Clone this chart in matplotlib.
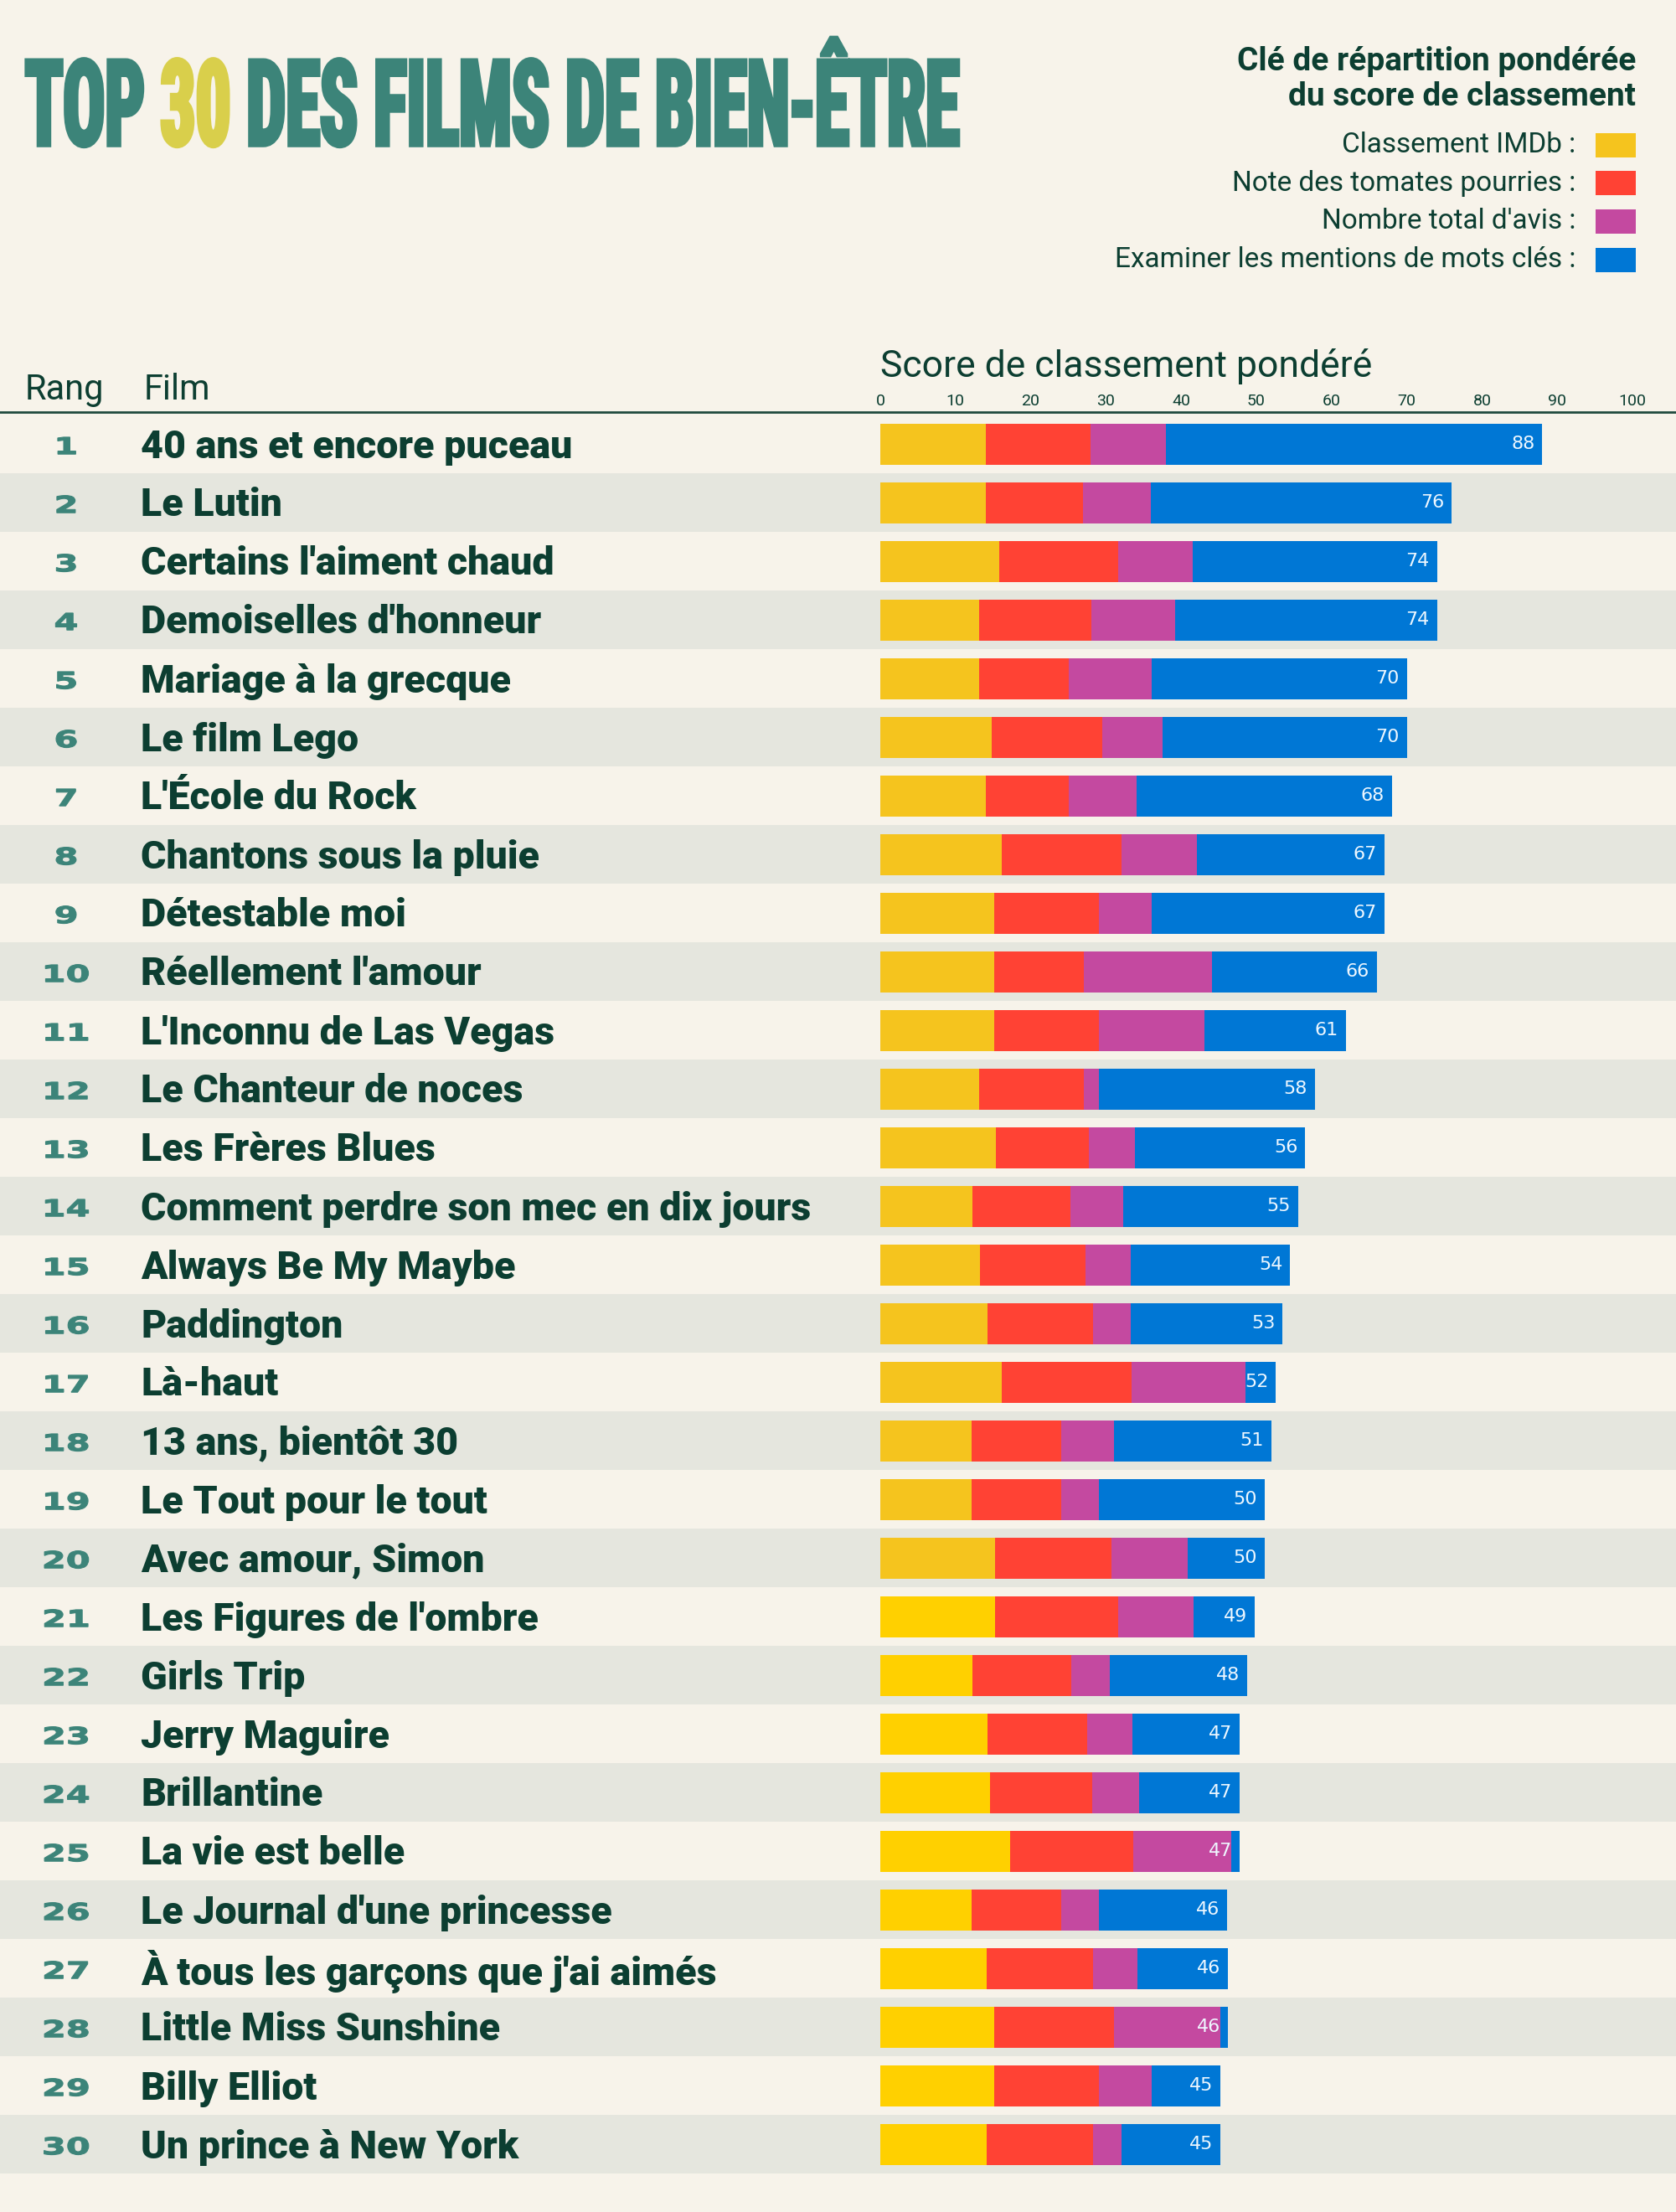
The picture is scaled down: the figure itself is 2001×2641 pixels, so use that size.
import numpy as np
import matplotlib.pyplot as plt
from matplotlib.patches import Rectangle
from matplotlib.patheffects import AbstractPathEffect
from matplotlib.transforms import Affine2D

plt.rcParams['font.family'] = ['Roboto', 'DejaVu Sans']

# ---- data ----
films = ["40 ans et encore puceau", "Le Lutin", "Certains l'aiment chaud",
         "Demoiselles d'honneur", "Mariage à la grecque", "Le film Lego",
         "L'École du Rock", "Chantons sous la pluie", "Détestable moi",
         "Réellement l'amour", "L'Inconnu de Las Vegas", "Le Chanteur de noces",
         "Les Frères Blues", "Comment perdre son mec en dix jours",
         "Always Be My Maybe", "Paddington", "Là-haut", "13 ans, bientôt 30",
         "Le Tout pour le tout", "Avec amour, Simon", "Les Figures de l'ombre",
         "Girls Trip", "Jerry Maguire", "Brillantine", "La vie est belle",
         "Le Journal d'une princesse", "À tous les garçons que j'ai aimés",
         "Little Miss Sunshine", "Billy Elliot", "Un prince à New York"]

imdb = [14.0, 14.0, 15.8, 13.1, 13.1, 14.8, 14.0, 16.1, 15.1, 15.1,
        15.1, 13.1, 15.4, 12.2, 13.2, 14.2, 16.2, 12.1, 12.1, 15.3,
        15.3, 12.2, 14.2, 14.6, 17.3, 12.1, 14.1, 15.1, 15.1, 14.1]
tomatoes = [14.0, 13.0, 15.8, 15.0, 11.9, 14.7, 11.0, 16.0, 14.0, 12.0,
            14.0, 14.0, 12.3, 13.1, 14.1, 14.1, 17.2, 12.0, 12.0, 15.4,
            16.3, 13.2, 13.3, 13.6, 16.3, 12.0, 14.2, 16.0, 14.0, 14.2]
reviews = [10.0, 9.0, 9.9, 11.1, 11.1, 8.0, 9.1, 10.0, 7.0, 17.0,
           14.0, 2.0, 6.2, 7.0, 6.0, 5.0, 15.1, 7.0, 5.0, 10.2,
           10.1, 5.1, 6.0, 6.2, 13.1, 5.0, 5.9, 14.1, 7.0, 3.8]
keywords = [50.0, 40.0, 32.5, 34.8, 33.9, 32.5, 33.9, 24.9, 30.9, 21.9,
            18.8, 28.7, 22.6, 23.3, 21.2, 20.2, 4.1, 20.9, 22.0, 10.2,
            8.1, 18.3, 14.3, 13.4, 1.1, 17.0, 12.0, 1.0, 9.1, 13.1]
scores = [88, 76, 74, 74, 70, 70, 68, 67, 67, 66, 61, 58, 56, 55, 54,
          53, 52, 51, 50, 50, 49, 48, 47, 47, 47, 46, 46, 46, 45, 45]
ticks = [0, 10, 20, 30, 40, 50, 60, 70, 80, 90, 100]
legend_labels = ["Classement IMDb :", "Note des tomates pourries :",
                 "Nombre total d'avis :", "Examiner les mentions de mots clés :"]

# ---- style ----
BG = '#F7F3EA'
BAND = '#E5E6DE'
DARK = '#0C3E31'
TEAL = '#3C8479'
GOLD = '#D9CF4B'
YEL1, YEL2 = '#F5C41E', '#FFD000'
RED = '#FF4234'
MAG = '#C449A0'
BLUE = '#0077D5'

W, H = 2001, 2641
fig = plt.figure(figsize=(W / 100, H / 100), dpi=100)
fig.patch.set_facecolor(BG)


def fx(px):
    return px / W


def fy(py):
    return 1 - py / H


class Stretch(AbstractPathEffect):
    # scale glyphs: x about the text's middle, y about the baseline; optional fattening stroke
    def __init__(self, sx=1.0, sy=1.0, lw=0.0):
        super().__init__()
        self.sx, self.sy, self.lw = sx, sy, lw

    def draw_path(self, renderer, gc, tpath, affine, rgbFace=None):
        ext = tpath.get_extents()
        cx = (ext.x0 + ext.x1) / 2
        t = Affine2D().translate(-cx, 0).scale(self.sx, self.sy).translate(cx, 0)
        gc0 = renderer.new_gc()
        gc0.copy_properties(gc)
        if self.lw:
            gc0.set_linewidth(self.lw)
            gc0.set_foreground(rgbFace)
            gc0.set_joinstyle('miter')
        renderer.draw_path(gc0, tpath, t + affine, rgbFace)
        gc0.restore()


n = len(films)
unit = 8.98     # px per score point
zero_px = 1051
ax = fig.add_axes([0, fy(2595), 1, 2100 / H])
ax.set_xlim(-zero_px / unit, (W - zero_px) / unit)
ax.set_ylim(n - 0.5, -0.5)
ax.set_facecolor(BG)
for s in ax.spines.values():
    s.set_visible(False)
ax.yaxis.set_visible(False)
ax.xaxis.tick_top()
ax.set_xticks(ticks)
ax.tick_params(axis='x', length=0, pad=5, labelsize=14, labelcolor=DARK)

for i in range(n):
    if i % 2 == 1:
        ax.axhspan(i - 0.5, i + 0.5, color=BAND, lw=0, zorder=0)

y = np.arange(n)
yel_cols = [YEL1] * 20 + [YEL2] * 10
left = np.zeros(n)
for vals, col in [(imdb, yel_cols), (tomatoes, RED), (reviews, MAG), (keywords, BLUE)]:
    ax.barh(y, vals, left=left, height=0.7, color=col, lw=0, zorder=2)
    left += np.array(vals)

trans = ax.get_yaxis_transform()
rank_fx = [Stretch(sx=1.5, lw=0.8)]
for i in range(n):
    ax.text(left[i] - 1.0, i, str(scores[i]), ha='right', va='center',
            color='#EEF7FF', fontsize=16, family='DejaVu Sans', zorder=3)
    ax.text(fx(79), i + 0.06, str(i + 1), transform=trans, ha='center', va='center',
            fontsize=20, fontweight='bold', color=TEAL, family='DejaVu Sans',
            path_effects=rank_fx)
    ax.text(fx(168), i + 0.05, films[i], transform=trans, ha='left', va='center',
            fontsize=33.5, fontweight='black', color=DARK)

ax.axhline(-0.5 - 3 / 70, color='#1F4A3E', lw=2, clip_on=False, zorder=3)

# column headers
fig.text(fx(30), fy(477), 'Rang', fontsize=30, color=DARK, va='baseline')
fig.text(fx(172), fy(477), 'Film', fontsize=30, color=DARK, va='baseline')
fig.text(fx(1051), fy(450), 'Score de classement pondéré', fontsize=32,
         color=DARK, va='baseline')

# title in three pieces
title_fam = ['Roboto Condensed', 'Liberation Sans Narrow', 'DejaVu Sans']
gap_pt = 13.5
fs0 = 60
kw = dict(fontsize=fs0, fontweight='bold', family=title_fam, fontstretch='condensed')
t1 = fig.text(fx(30), fy(173), 'TOP', color=TEAL, va='baseline', **kw)
t2 = ax.annotate('30', xy=(1, 0), xycoords=t1, xytext=(gap_pt, 0),
                 textcoords='offset points', ha='left', va='bottom', color=GOLD, **kw)
t3 = ax.annotate('DES FILMS DE BIEN-ÊTRE', xy=(1, 0), xycoords=t2, xytext=(gap_pt, 0),
                 textcoords='offset points', ha='left', va='bottom', color=TEAL, **kw)
fig.canvas.draw()
r = fig.canvas.get_renderer()
wsum = sum(t.get_window_extent(r).width for t in (t1, t2, t3))
fs = fs0 * (1116 - 2 * gap_pt * 100 / 72) / wsum
sy = 102 / (0.72 * fs * 100 / 72)
for t in (t1, t2, t3):
    t.set_fontsize(fs)
    t.set_path_effects([Stretch(sy=sy, lw=4)])

# legend
fig.text(fx(1953), fy(84), 'Clé de répartition pondérée', ha='right', va='baseline',
         fontsize=28, fontweight='bold', color=DARK)
fig.text(fx(1953), fy(126), 'du score de classement', ha='right', va='baseline',
         fontsize=28, fontweight='bold', color=DARK)
for k, (lab, col) in enumerate(zip(legend_labels, [YEL1, RED, MAG, BLUE])):
    cy = 173 + k * 45.7
    fig.text(fx(1881), fy(cy), lab, ha='right', va='center', fontsize=24, color=DARK)
    fig.add_artist(Rectangle((fx(1905), fy(cy + 14.5)), 48 / W, 29 / H,
                             transform=fig.transFigure, color=col, lw=0))

fig.savefig('out.png', dpi=100, facecolor=BG)
